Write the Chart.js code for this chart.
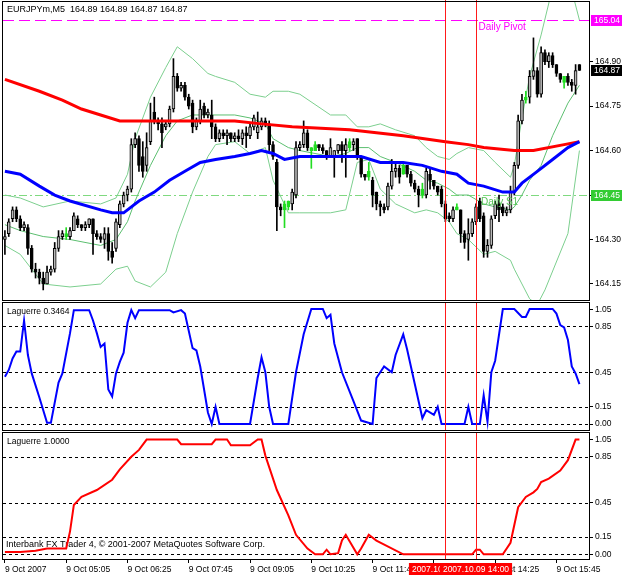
<!DOCTYPE html>
<html><head><meta charset="utf-8">
<script src="https://cdn.jsdelivr.net/npm/chart.js@4/dist/chart.umd.min.js"></script>
<style>
html,body{margin:0;padding:0;background:#fff;}
#wrap{position:relative;width:625px;height:577px;overflow:hidden;background:#fff;}
canvas{position:absolute;left:0;}
</style></head><body>
<div id="wrap">
<canvas id="c1" width="625" height="302" style="top:0px"></canvas>
<canvas id="c2" width="625" height="130" style="top:302px"></canvas>
<canvas id="c3" width="625" height="145" style="top:432px"></canvas>
</div>
<script>
// ---------- DATA ----------
const symbol = 'EURJPYm,M5';
// bars: 9 Oct 2007, M5, index 0 = 03:45
const opens = [164.30,164.32,164.37,164.40,164.37,164.34,164.34,164.27,164.20,164.19,
164.17,164.15,164.19,164.20,164.27,164.31,164.32,164.31,164.33,164.37,
164.35,164.34,164.35,164.37,164.32,164.31,164.30,164.32,164.26,164.27,
164.35,164.42,164.45,164.47,164.62,164.64,164.58,164.55,164.63,164.73,
164.70,164.69,164.68,164.69,164.74,164.85,164.81,164.82,164.78,164.76,
164.68,164.70,164.75,164.72,164.72,164.68,164.64,164.66,164.65,164.66,
164.64,164.65,164.64,164.66,164.65,164.68,164.66,164.68,164.70,164.69,
164.62,164.56,164.41,164.40,164.41,164.42,164.45,164.61,164.62,164.66,
164.61,164.60,164.62,164.61,164.60,164.58,164.58,164.60,164.62,164.60,
164.61,164.62,164.64,164.58,164.52,164.51,164.50,164.46,164.42,164.41,
164.41,164.48,164.53,164.54,164.52,164.55,164.52,164.49,164.47,164.45,
164.45,164.52,164.50,164.48,164.47,164.42,164.38,164.37,164.40,164.40,
164.32,164.30,164.32,164.36,164.43,164.38,164.26,164.28,164.38,164.42,
164.41,164.39,164.40,164.46,164.55,164.70,164.77,164.78,164.85,164.87,
164.79,164.93,164.90,164.92,164.89,164.86,164.83,164.85,164.83,164.82,
164.89];
const highs = [164.33,164.37,164.41,164.41,164.38,164.36,164.35,164.28,164.22,164.20,
164.19,164.21,164.21,164.29,164.33,164.33,164.34,164.34,164.39,164.38,
164.35,164.36,164.37,164.37,164.33,164.32,164.34,164.34,164.29,164.37,
164.43,164.46,164.48,164.64,164.66,164.65,164.63,164.66,164.76,164.78,
164.71,164.71,164.70,164.75,164.91,164.86,164.83,164.83,164.79,164.77,
164.71,164.77,164.76,164.74,164.77,164.69,164.67,164.67,164.67,164.66,
164.66,164.67,164.67,164.68,164.69,164.72,164.73,164.71,164.71,164.70,
164.63,164.57,164.42,164.43,164.43,164.47,164.63,164.63,164.70,164.67,
164.61,164.63,164.62,164.62,164.60,164.64,164.60,164.62,164.63,164.64,
164.64,164.64,164.64,164.58,164.52,164.56,164.51,164.46,164.43,164.42,
164.49,164.57,164.56,164.55,164.56,164.55,164.53,164.50,164.48,164.49,
164.54,164.54,164.50,164.48,164.48,164.43,164.39,164.41,164.42,164.40,
164.33,164.37,164.37,164.42,164.44,164.39,164.30,164.38,164.43,164.45,
164.42,164.41,164.48,164.56,164.72,164.79,164.80,164.87,164.98,164.88,
164.95,164.94,164.93,164.93,164.89,164.86,164.85,164.86,164.84,164.89,
164.89];
const lows = [164.25,164.31,164.36,164.36,164.33,164.33,164.25,164.19,164.17,164.15,
164.13,164.15,164.18,164.19,164.26,164.30,164.30,164.30,164.33,164.34,
164.33,164.33,164.34,164.25,164.30,164.29,164.27,164.23,164.22,164.26,
164.34,164.41,164.43,164.46,164.61,164.53,164.51,164.53,164.62,164.69,
164.67,164.61,164.67,164.68,164.73,164.80,164.80,164.77,164.74,164.66,
164.67,164.69,164.71,164.71,164.64,164.63,164.63,164.64,164.62,164.63,
164.63,164.63,164.62,164.61,164.64,164.67,164.64,164.67,164.68,164.60,
164.57,164.33,164.38,164.34,164.40,164.40,164.44,164.60,164.61,164.60,
164.54,164.60,164.60,164.59,164.57,164.58,164.51,164.59,164.56,164.51,
164.60,164.60,164.57,164.51,164.50,164.50,164.41,164.40,164.38,164.39,
164.40,164.47,164.51,164.49,164.52,164.51,164.48,164.46,164.41,164.44,
164.44,164.47,164.47,164.45,164.41,164.36,164.36,164.36,164.40,164.29,
164.27,164.23,164.31,164.35,164.36,164.24,164.24,164.27,164.37,164.36,
164.38,164.38,164.39,164.45,164.54,164.69,164.76,164.76,164.84,164.78,
164.78,164.89,164.88,164.88,164.85,164.83,164.81,164.82,164.80,164.79,
164.87];
const closes = [164.31,164.36,164.40,164.37,164.34,164.35,164.27,164.20,164.19,164.17,
164.15,164.19,164.20,164.27,164.31,164.32,164.31,164.33,164.38,164.35,
164.34,164.35,164.37,164.32,164.31,164.30,164.32,164.26,164.24,164.36,
164.42,164.45,164.47,164.62,164.64,164.55,164.53,164.61,164.70,164.70,
164.69,164.66,164.69,164.74,164.85,164.81,164.82,164.78,164.75,164.68,
164.70,164.74,164.72,164.73,164.68,164.64,164.66,164.65,164.66,164.64,
164.65,164.64,164.66,164.65,164.68,164.71,164.68,164.70,164.69,164.62,
164.58,164.41,164.40,164.42,164.43,164.46,164.61,164.62,164.66,164.61,
164.60,164.62,164.61,164.60,164.58,164.61,164.60,164.62,164.60,164.62,
164.63,164.63,164.58,164.52,164.51,164.53,164.45,164.42,164.41,164.40,
164.48,164.53,164.54,164.51,164.55,164.52,164.49,164.47,164.45,164.47,
164.53,164.50,164.48,164.46,164.42,164.37,164.37,164.40,164.41,164.32,
164.29,164.32,164.36,164.41,164.37,164.26,164.28,164.37,164.42,164.40,
164.39,164.40,164.46,164.55,164.70,164.77,164.78,164.85,164.87,164.79,
164.93,164.90,164.92,164.89,164.86,164.84,164.85,164.83,164.82,164.87,
164.87];
const greenBars = [16,73,74,80,81,90,95,104,109,118,136,146];

// indicator lines: [bar index, value]
const maRed = [[0,164.84],[9,164.80],[15,164.77],[20,164.74],[25,164.72],[30,164.70],[46,164.70],[60,164.70],[67,164.69],[75,164.68],[90,164.67],[104,164.65],[115,164.63],[121,164.62],[125,164.61],[133,164.60],[138,164.60],[146,164.62],[150,164.63]];
const maBlue = [[0,164.53],[4,164.52],[9,164.48],[13,164.45],[17,164.43],[25,164.40],[28,164.39],[31,164.39],[35,164.43],[39,164.46],[43,164.50],[47,164.53],[51,164.56],[55,164.57],[60,164.58],[64,164.59],[67,164.60],[70,164.59],[73,164.57],[77,164.58],[90,164.58],[93,164.58],[98,164.56],[104,164.56],[109,164.55],[114,164.53],[118,164.52],[121,164.49],[125,164.48],[130,164.46],[133,164.46],[135,164.49],[139,164.53],[143,164.57],[147,164.61],[150,164.63]];
const bbUpper = [[0,164.45],[4,164.44],[10,164.41],[17,164.43],[25,164.42],[29,164.44],[32,164.52],[34,164.64],[38,164.78],[42,164.88],[45,164.95],[49,164.91],[53,164.86],[55,164.85],[60,164.83],[64,164.79],[68,164.78],[70,164.80],[74,164.80],[77,164.79],[85,164.72],[89,164.72],[92,164.68],[95,164.68],[98,164.69],[102,164.67],[107,164.65],[110,164.61],[113,164.58],[116,164.57],[118,164.59],[121,164.61],[125,164.60],[128,164.56],[132,164.51],[133,164.55],[135,164.71],[137,164.85],[140,164.99],[143,165.15],[147,165.19],[150,165.04]];
const bbMiddle = [[0,164.35],[4,164.33],[10,164.31],[17,164.30],[25,164.28],[29,164.30],[32,164.36],[34,164.43],[38,164.55],[42,164.65],[45,164.70],[49,164.72],[53,164.72],[60,164.72],[64,164.71],[68,164.69],[70,164.64],[74,164.61],[77,164.60],[85,164.58],[89,164.59],[92,164.61],[95,164.61],[98,164.58],[102,164.56],[107,164.53],[110,164.50],[113,164.49],[116,164.47],[118,164.45],[121,164.45],[125,164.42],[128,164.41],[132,164.40],[133,164.41],[135,164.45],[137,164.50],[140,164.55],[143,164.65],[147,164.76],[150,164.82]];
const bbLower = [[0,164.28],[4,164.25],[10,164.15],[17,164.14],[25,164.15],[29,164.20],[32,164.21],[34,164.16],[38,164.14],[42,164.19],[45,164.32],[49,164.46],[53,164.58],[55,164.62],[60,164.63],[64,164.59],[68,164.61],[70,164.50],[74,164.39],[77,164.39],[85,164.39],[89,164.40],[92,164.56],[95,164.57],[98,164.47],[102,164.42],[107,164.39],[110,164.40],[113,164.39],[116,164.36],[118,164.32],[121,164.30],[125,164.25],[128,164.26],[132,164.23],[133,164.20],[135,164.15],[137,164.10],[139,164.08],[141,164.13],[147,164.32],[150,164.60]];
const laguerreFast = [[0,0.41],[1,0.47],[2,0.57],[3,0.63],[4,0.63],[5,0.90],[6,0.60],[7,0.44],[9,0.23],[11,0.01],[12,0.01],[14,0.36],[15,0.44],[17,0.79],[18,0.99],[22,0.99],[23,0.90],[24,0.79],[25,0.67],[26,0.70],[27,0.30],[28,0.24],[29,0.44],[30,0.54],[31,0.62],[32,0.88],[33,0.99],[34,0.92],[35,0.99],[43,0.99],[44,0.97],[46,0.99],[47,0.96],[49,0.66],[50,0.64],[51,0.50],[53,0.10],[54,0.0],[55,0.15],[56,0.0],[64,0.0],[66,0.40],[67,0.58],[68,0.45],[69,0.15],[70,0.0],[74,0.0],[76,0.45],[78,0.78],[80,1.0],[83,1.0],[84,0.92],[85,0.95],[86,0.70],[88,0.45],[91,0.20],[93,0.03],[96,0.0],[97,0.40],[99,0.50],[101,0.45],[102,0.60],[104,0.78],[105,0.65],[107,0.35],[109,0.05],[110,0.12],[112,0.08],[113,0.15],[114,0.0],[120,0.0],[121,0.15],[122,0.0],[124,0.0],[125,0.25],[126,0.02],[127,0.45],[128,0.55],[130,1.0],[133,1.0],[135,0.93],[136,0.93],[137,1.0],[143,1.0],[144,0.96],[145,0.86],[146,0.84],[147,0.73],[148,0.50],[149,0.44],[150,0.3464]];
const laguerreSlow = [[0,0.02],[4,0.02],[8,0.03],[11,0.05],[16,0.05],[17,0.20],[18,0.43],[20,0.50],[24,0.56],[28,0.65],[30,0.74],[33,0.85],[35,0.91],[37,1.0],[45,1.0],[46,0.96],[54,0.96],[55,1.0],[58,1.0],[59,0.95],[64,0.95],[66,1.0],[67,1.0],[68,0.86],[71,0.56],[74,0.34],[76,0.17],[79,0.05],[81,0.0],[83,0.0],[84,0.04],[85,0.0],[87,0.01],[88,0.12],[89,0.17],[92,0.0],[93,0.05],[95,0.17],[97,0.12],[104,0.0],[122,0.0],[123,0.04],[124,0.04],[125,0.0],[130,0.0],[132,0.10],[134,0.41],[136,0.50],[138,0.54],[139,0.57],[140,0.63],[142,0.66],[145,0.73],[147,0.82],[149,1.0],[150,1.0]];

const pivot = 165.04, s1 = 164.45;
const priceTicks = [164.15,164.30,164.45,164.60,164.75,164.90];
const lagTopLabel = 1.05;           // window maximum printed at the top of each oscillator
const lagTicks = [0.85,0.45,0.15,0.00];
const lagLevels = [0.85,0.45,0.15,0.00];
const xTickIdx = [0,16,32,48,64,80,96,112,128,144];
const xTickLabels = ['9 Oct 2007','9 Oct 05:05','9 Oct 06:25','9 Oct 07:45','9 Oct 09:05','9 Oct 10:25','9 Oct 11:45','9 Oct 13:05','9 Oct 14:25','9 Oct 15:45'];
const vLineIdx = [115,123];
const vLineLabels = ['2007.10.09 13:20','2007.10.09 14:00'];
const copyright = 'Interbank FX Trader 4, \u00a9 2001-2007 MetaQuotes Software Corp.';

// ---------- HELPERS ----------
const FONT = "'Liberation Sans', Arial, sans-serif";
Chart.defaults.font.family = FONT;
Chart.defaults.font.size = 8.5;
Chart.defaults.color = '#000';
const SLOTS_MIN = -0.5, SLOTS_MAX = 152.5;
const pts = a => a.map(([x,y]) => ({x, y}));
const n = opens.length;
const isGreen = i => greenBars.indexOf(i) >= 0;
const wicks = lows.map((l,i) => ({x:i, y:[l, highs[i]]}));
const bodies = opens.map((o,i) => ({x:i, y:[Math.min(o,closes[i]), Math.max(o,closes[i])]}));
const wickColors = opens.map((o,i) => isGreen(i) ? '#22dd22' : '#000');
const bodyFill = opens.map((o,i) => isGreen(i) ? '#22dd22' : (closes[i] >= o ? '#b8b8b8' : '#000'));
const bodyBorder = opens.map((o,i) => isGreen(i) ? '#22dd22' : '#000');
const noPad = s => { s.paddingTop = 0; s.paddingBottom = 0; s.paddingLeft = 0; s.paddingRight = 0; };

function frame(chart){
  const {ctx, chartArea:a} = chart;
  ctx.save(); ctx.strokeStyle='#000'; ctx.lineWidth=1;
  ctx.strokeRect(a.left-0.5, a.top-0.5, a.right-a.left+1, a.bottom-a.top+1);
  ctx.restore();
}
function vLines(chart, top, bottom){
  const {ctx, chartArea:a, scales:{x}} = chart;
  ctx.save(); ctx.strokeStyle='#ff1a1a'; ctx.lineWidth=1;
  vLineIdx.forEach(i => {
    const px = Math.round(x.getPixelForValue(i)) + 0.5;
    ctx.beginPath(); ctx.moveTo(px, top===undefined?a.top:top); ctx.lineTo(px, bottom===undefined?a.bottom:bottom); ctx.stroke();
  });
  ctx.restore();
}
function hLine(chart, v, color, dash){
  const {ctx, chartArea:a, scales:{y}} = chart;
  const py = Math.round(y.getPixelForValue(v)) + 0.5;
  ctx.save(); ctx.strokeStyle=color; ctx.lineWidth=1; ctx.setLineDash(dash);
  ctx.beginPath(); ctx.moveTo(a.left, py); ctx.lineTo(a.right, py); ctx.stroke();
  ctx.restore();
}
function priceBox(chart, v, bg, fg){
  const {ctx, chartArea:a, scales:{y}} = chart;
  const py = Math.round(y.getPixelForValue(v));
  ctx.save();
  ctx.fillStyle = bg; ctx.fillRect(a.right+2, py-5, 31, 11);
  ctx.fillStyle = fg; ctx.font = '8.5px '+FONT; ctx.textBaseline='middle'; ctx.textAlign='left';
  ctx.fillText(v.toFixed(2), a.right+5, py+0.5);
  ctx.restore();
}
function yScale(min, max, ticks, fmt){
  return {
    position:'right', min, max,
    afterBuildTicks: s => { s.ticks = ticks.map(v => ({value:v})); },
    afterFit: s => { s.width = 36; noPad(s); },
    ticks:{ callback: v => fmt(v), padding:2, autoSkip:false, font:{size:8.5}, color:'#000' },
    grid:{ drawOnChartArea:false, drawTicks:true, tickLength:4, tickColor:'#000' },
    border:{ display:false }
  };
}
const xHidden = { type:'linear', min:SLOTS_MIN, max:SLOTS_MAX, offset:false, display:false };
const common = { responsive:false, animation:false, events:[], plugins:{ legend:{display:false}, tooltip:{enabled:false} } };

// ---------- MAIN PRICE PANEL ----------
new Chart(document.getElementById('c1'), {
  type:'bar',
  data:{ datasets:[
    {type:'line', label:'BB upper', data:pts(bbUpper), borderColor:'#7ccf8e', borderWidth:1, pointRadius:0, tension:0, order:30},
    {type:'line', label:'BB middle', data:pts(bbMiddle), borderColor:'#5cbf70', borderWidth:1, pointRadius:0, tension:0, order:31},
    {type:'line', label:'BB lower', data:pts(bbLower), borderColor:'#7ccf8e', borderWidth:1, pointRadius:0, tension:0, order:32},
    {type:'bar', label:'High-Low', data:wicks, barThickness:1, backgroundColor:wickColors, borderWidth:0, grouped:false, order:20},
    {type:'bar', label:'Open-Close', data:bodies, barThickness:3, backgroundColor:bodyFill, borderColor:bodyBorder, borderWidth:1, borderSkipped:false, minBarLength:1, grouped:false, order:19},
    {type:'line', label:'MA slow', data:pts(maRed), borderColor:'#ff0000', borderWidth:3, pointRadius:0, tension:0, order:2},
    {type:'line', label:'MA fast', data:pts(maBlue), borderColor:'#0000ff', borderWidth:3, pointRadius:0, tension:0, order:1}
  ]},
  options:Object.assign({}, common, {
    layout:{ padding:{left:3, top:2, bottom:2, right:0} },
    scales:{ x: xHidden, y: yScale(164.096, 165.101, priceTicks, v => v.toFixed(2)) }
  }),
  plugins:[{
    id:'decorMain',
    beforeDatasetsDraw(chart){
      hLine(chart, pivot, '#ff00ff', [11,5]);
      hLine(chart, s1, '#7fd97f', [8,3,2,3]);
    },
    afterDatasetsDraw(chart){
      const {ctx, chartArea:a, scales:{x,y}} = chart;
      vLines(chart, 0, a.bottom);
      ctx.save();
      ctx.font = '10px '+FONT; ctx.textAlign='right'; ctx.textBaseline='top';
      ctx.fillStyle = '#ff00ff';
      ctx.fillText('Daily Pivot', x.getPixelForValue(136), y.getPixelForValue(pivot)+2);
      ctx.fillStyle = '#55c455';
      ctx.fillText('Daily S1', x.getPixelForValue(134), y.getPixelForValue(s1)+2);
      ctx.font = '9px '+FONT; ctx.textAlign='left'; ctx.textBaseline='middle'; ctx.fillStyle='#000';
      const L = n-1;
      ctx.fillText(symbol+'  '+opens[L].toFixed(2)+' '+highs[L].toFixed(2)+' '+lows[L].toFixed(2)+' '+closes[L].toFixed(2), a.left+4, 10);
      ctx.restore();
      frame(chart);
    },
    afterDraw(chart){
      priceBox(chart, pivot, '#ff00ff', '#fff');
      priceBox(chart, closes[n-1], '#000', '#fff');
      priceBox(chart, s1, '#33cc33', '#fff');
    }
  }]
});

// ---------- LAGUERRE PANELS ----------
function lagPanel(id, series, color, showX, padding, yr){
  const xs = showX ? {
    type:'linear', min:SLOTS_MIN, max:SLOTS_MAX, offset:false,
    afterBuildTicks: s => { s.ticks = xTickIdx.map(v => ({value:v})); },
    afterFit: s => { s.height = 18; noPad(s); },
    ticks:{ callback:(v) => xTickLabels[xTickIdx.indexOf(v)], align:'start', maxRotation:0, autoSkip:false, padding:2, font:{size:8.5}, color:'#000' },
    grid:{ drawOnChartArea:false, drawTicks:true, tickLength:4, tickColor:'#000', offset:false },
    border:{ display:false }
  } : xHidden;
  new Chart(document.getElementById(id), {
    type:'line',
    data:{ datasets:[
      {label:'Laguerre', data:pts(series), borderColor:color, borderWidth:2, pointRadius:0, tension:0}
    ]},
    options:Object.assign({}, common, {
      layout:{ padding:padding },
      scales:{ x: xs, y: yScale(yr[0], yr[1], lagTicks, v => v.toFixed(2)) }
    }),
    plugins:[{
      id:'decor'+id,
      beforeDatasetsDraw(chart){
        lagLevels.forEach(v => hLine(chart, v, '#000', [3,3]));
        if (showX) {
          const {ctx, chartArea:a} = chart;
          ctx.save(); ctx.font='9px '+FONT; ctx.fillStyle='#000'; ctx.textBaseline='middle'; ctx.textAlign='left';
          ctx.fillText(copyright, a.left+3, a.bottom-14);
          ctx.restore();
        }
      },
      afterDatasetsDraw(chart){
        const {ctx, chartArea:a} = chart;
        vLines(chart, a.top-2, a.bottom);
        ctx.save(); ctx.font='8.5px '+FONT; ctx.fillStyle='#000'; ctx.textBaseline='middle'; ctx.textAlign='left';
        ctx.fillText('Laguerre ' + series[series.length-1][1].toFixed(4), a.left+4, a.top+9);
        ctx.restore();
        frame(chart);
      },
      afterDraw(chart){
        const {ctx, chartArea:a, scales:{x}} = chart;
        // window maximum label at the top of the scale
        ctx.save();
        ctx.strokeStyle='#000'; ctx.lineWidth=1;
        ctx.beginPath(); ctx.moveTo(a.right, a.top+6.5); ctx.lineTo(a.right+4, a.top+6.5); ctx.stroke();
        ctx.font='8.5px '+FONT; ctx.fillStyle='#000'; ctx.textBaseline='middle'; ctx.textAlign='left';
        ctx.fillText(lagTopLabel.toFixed(2), a.right+6, a.top+6.5);
        ctx.restore();
        if (!showX) return;
        ctx.save(); ctx.font='8.5px '+FONT; ctx.textBaseline='middle'; ctx.textAlign='left';
        vLineIdx.forEach((i,k) => {
          const px = Math.round(x.getPixelForValue(i));
          const w = ctx.measureText(vLineLabels[k]).width + 6;
          ctx.fillStyle='#ff0000'; ctx.fillRect(px - w/2, a.bottom+4, w, 12);
          ctx.fillStyle='#fff'; ctx.fillText(vLineLabels[k], px - w/2 + 3, a.bottom+10.5);
        });
        ctx.restore();
      }
    }]
  });
}
lagPanel('c2', laguerreFast, '#0000ff', false, {left:3, top:1, bottom:2, right:0}, [-0.052, 1.052]);
lagPanel('c3', laguerreSlow, '#ff0000', true, {left:3, top:1, bottom:0, right:0}, [-0.041, 1.057]);
</script>
</body></html>
